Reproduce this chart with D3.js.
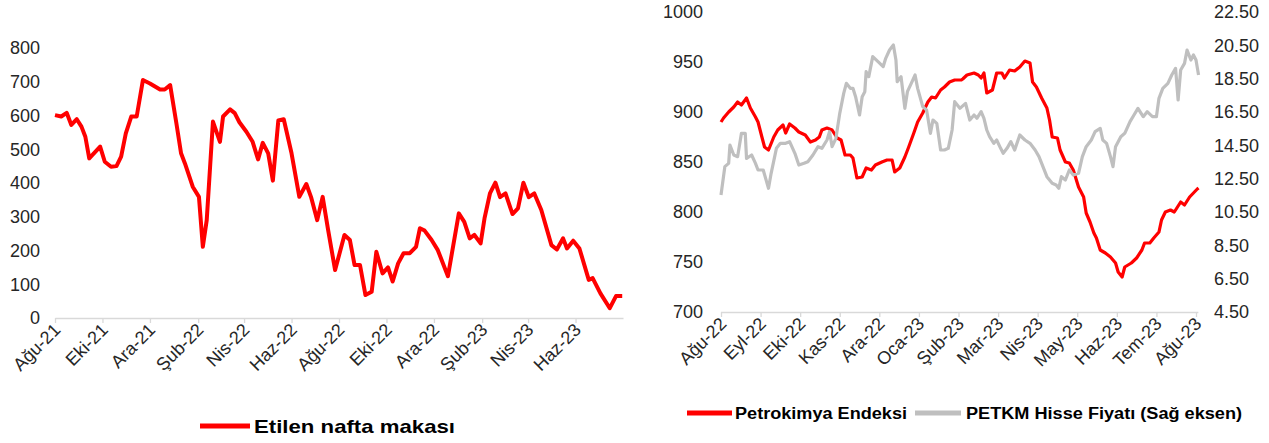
<!DOCTYPE html>
<html><head><meta charset="utf-8">
<script src="https://cdn.jsdelivr.net/npm/d3@7"></script>
<style>
html,body{margin:0;padding:0;background:#fff;}
svg{display:block;font-family:"Liberation Sans",Arial,sans-serif;}
</style></head>
<body><svg id="c" width="1269" height="443"></svg>
<script>
// ---------- Left chart: Etilen nafta makası ----------
const leftDates = ["2021-08-01","2021-08-09","2021-08-16","2021-08-22","2021-08-29","2021-09-04","2021-09-09","2021-09-14","2021-09-28","2021-10-04","2021-10-12","2021-10-19","2021-10-25","2021-10-31","2021-11-07","2021-11-14","2021-11-22","2021-12-01","2021-12-14","2021-12-20","2021-12-27","2022-01-04","2022-01-10","2022-01-15","2022-01-25","2022-02-02","2022-02-07","2022-02-12","2022-02-20","2022-03-01","2022-03-05","2022-03-14","2022-03-20","2022-03-26","2022-04-04","2022-04-12","2022-04-19","2022-04-25","2022-05-02","2022-05-08","2022-05-15","2022-05-22","2022-06-01","2022-06-11","2022-06-20","2022-06-26","2022-07-04","2022-07-11","2022-07-18","2022-07-27","2022-08-08","2022-08-15","2022-08-21","2022-08-28","2022-09-04","2022-09-12","2022-09-18","2022-09-26","2022-10-03","2022-10-09","2022-10-16","2022-10-23","2022-10-31","2022-11-08","2022-11-13","2022-11-19","2022-11-28","2022-12-06","2022-12-19","2023-01-02","2023-01-09","2023-01-16","2023-01-22","2023-01-30","2023-02-04","2023-02-11","2023-02-18","2023-02-24","2023-03-03","2023-03-12","2023-03-19","2023-03-26","2023-04-02","2023-04-09","2023-04-18","2023-05-01","2023-05-08","2023-05-16","2023-05-21","2023-05-29","2023-06-06","2023-06-18","2023-06-23","2023-07-03","2023-07-15","2023-07-23","2023-07-31"];
const leftValues = [601,597,608,572,589,567,537,473,508,463,448,450,478,547,597,597,705,695,677,677,690,577,488,458,389,359,211,290,582,522,597,618,607,580,552,522,470,519,488,407,585,589,488,359,397,359,290,359,261,142,246,231,157,157,68,78,196,132,150,108,162,192,192,211,266,259,231,201,124,310,285,236,246,221,295,369,401,358,369,308,325,401,358,369,320,216,203,236,206,229,206,113,118,73,29,65,65];
const leftTickDates = ["2021-08-01","2021-10-01","2021-12-01","2022-02-01","2022-04-01","2022-06-01","2022-08-01","2022-10-01","2022-12-01","2023-02-01","2023-04-01","2023-06-01"];
const leftTickLabels = ["Ağu-21","Eki-21","Ara-21","Şub-22","Nis-22","Haz-22","Ağu-22","Eki-22","Ara-22","Şub-23","Nis-23","Haz-23"];
const leftYTicks = [0,100,200,300,400,500,600,700,800];
const leftSeriesName = "Etilen nafta makası";

// ---------- Right chart: Petrokimya Endeksi vs PETKM ----------
const petroDates = ["2022-08-01","2022-08-03","2022-08-07","2022-08-11","2022-08-14","2022-08-17","2022-08-21","2022-08-24","2022-08-28","2022-08-30","2022-09-02","2022-09-04","2022-09-07","2022-09-11","2022-09-14","2022-09-18","2022-09-20","2022-09-23","2022-09-27","2022-09-30","2022-10-05","2022-10-09","2022-10-13","2022-10-16","2022-10-18","2022-10-22","2022-10-26","2022-10-30","2022-11-02","2022-11-05","2022-11-09","2022-11-11","2022-11-14","2022-11-18","2022-11-21","2022-11-25","2022-11-28","2022-12-03","2022-12-07","2022-12-11","2022-12-13","2022-12-17","2022-12-21","2022-12-24","2022-12-28","2022-12-31","2023-01-04","2023-01-08","2023-01-11","2023-01-14","2023-01-18","2023-01-21","2023-01-25","2023-01-29","2023-02-03","2023-02-04","2023-02-07","2023-02-12","2023-02-15","2023-02-17","2023-02-19","2023-02-21","2023-02-25","2023-02-28","2023-03-04","2023-03-06","2023-03-10","2023-03-14","2023-03-18","2023-03-22","2023-03-26","2023-03-28","2023-03-31","2023-04-04","2023-04-08","2023-04-10","2023-04-12","2023-04-16","2023-04-18","2023-04-22","2023-04-25","2023-04-28","2023-05-02","2023-05-06","2023-05-08","2023-05-11","2023-05-14","2023-05-16","2023-05-19","2023-05-23","2023-05-27","2023-05-31","2023-06-02","2023-06-05","2023-06-07","2023-06-12","2023-06-16","2023-06-20","2023-06-22","2023-06-26","2023-06-29","2023-07-03","2023-07-05","2023-07-08","2023-07-12","2023-07-15","2023-07-20","2023-07-23","2023-07-27","2023-08-02","2023-08-03"];
const petroValues = [890,894,900,905,910,907,914,904,895,890,875,865,862,875,882,887,879,888,884,880,877,870,872,875,882,884,882,874,872,857,857,854,834,835,844,842,847,850,852,852,840,844,855,865,879,890,899,910,915,914,922,925,930,932,932,933,937,939,937,934,939,919,922,939,939,934,942,941,945,951,949,930,925,914,904,892,875,874,862,850,849,842,825,815,799,790,779,774,762,759,755,749,740,735,745,749,754,762,769,769,774,780,792,800,802,800,810,807,815,823,824];
const petkmDates = ["2022-08-01","2022-08-04","2022-08-07","2022-08-08","2022-08-11","2022-08-14","2022-08-17","2022-08-20","2022-08-21","2022-08-25","2022-08-28","2022-08-30","2022-09-03","2022-09-07","2022-09-09","2022-09-13","2022-09-16","2022-09-20","2022-09-23","2022-09-27","2022-09-30","2022-10-04","2022-10-07","2022-10-11","2022-10-15","2022-10-18","2022-10-22","2022-10-24","2022-10-26","2022-10-29","2022-11-01","2022-11-04","2022-11-06","2022-11-09","2022-11-11","2022-11-13","2022-11-16","2022-11-18","2022-11-20","2022-11-21","2022-11-23","2022-11-26","2022-11-30","2022-12-04","2022-12-06","2022-12-09","2022-12-12","2022-12-14","2022-12-15","2022-12-18","2022-12-21","2022-12-23","2022-12-26","2022-12-29","2022-12-31","2023-01-04","2023-01-07","2023-01-10","2023-01-12","2023-01-15","2023-01-18","2023-01-21","2023-01-24","2023-01-27","2023-01-29","2023-02-02","2023-02-06","2023-02-09","2023-02-12","2023-02-14","2023-02-17","2023-02-19","2023-02-21","2023-02-23","2023-02-26","2023-02-28","2023-03-03","2023-03-05","2023-03-08","2023-03-11","2023-03-14","2023-03-18","2023-03-22","2023-03-26","2023-03-30","2023-04-02","2023-04-05","2023-04-08","2023-04-12","2023-04-15","2023-04-17","2023-04-19","2023-04-22","2023-04-25","2023-04-28","2023-05-02","2023-05-05","2023-05-08","2023-05-12","2023-05-15","2023-05-19","2023-05-21","2023-05-24","2023-05-27","2023-05-29","2023-05-31","2023-06-04","2023-06-07","2023-06-11","2023-06-14","2023-06-17","2023-06-21","2023-06-24","2023-06-28","2023-07-01","2023-07-03","2023-07-06","2023-07-10","2023-07-13","2023-07-16","2023-07-18","2023-07-20","2023-07-23","2023-07-25","2023-07-28","2023-07-30","2023-08-01","2023-08-03"];
const petkmValues = [11.52,13.22,13.42,14.52,13.92,13.82,15.22,15.22,13.72,13.92,13.42,13.02,13.02,11.92,12.82,14.32,14.62,14.62,14.72,14.02,13.32,13.42,13.52,13.92,14.42,14.32,14.82,15.32,14.42,14.92,16.42,17.62,18.22,17.92,17.92,17.42,16.32,17.42,17.72,18.92,18.62,19.82,19.52,19.22,19.72,20.22,20.52,19.62,18.32,18.62,16.72,17.72,18.22,18.72,17.92,16.82,16.62,15.22,16.02,15.82,14.22,14.22,14.32,15.42,17.12,16.72,17.02,16.02,16.32,16.12,16.52,16.12,15.42,15.02,14.62,14.82,14.32,14.02,14.32,14.72,14.22,15.12,14.82,14.62,14.22,13.82,13.22,12.62,12.22,12.12,11.92,12.62,12.42,13.02,12.72,12.82,13.82,14.42,14.82,15.32,15.52,14.82,14.62,13.82,13.22,14.42,15.02,15.22,15.92,16.32,16.72,16.22,16.52,16.22,16.22,17.32,17.92,18.22,18.72,19.12,17.22,19.02,19.42,20.22,19.62,19.92,19.62,18.72];
const rightTickLabels = ["Ağu-22","Eyl-22","Eki-22","Kas-22","Ara-22","Oca-23","Şub-23","Mar-23","Nis-23","May-23","Haz-23","Tem-23","Ağu-23"];
const rightLeftTicks = [700,750,800,850,900,950,1000];
const rightRightTicks = [4.5,6.5,8.5,10.5,12.5,14.5,16.5,18.5,20.5,22.5];
const petroName = "Petrokimya Endeksi";
const petkmName = "PETKM Hisse Fiyatı (Sağ eksen)";

const RED = "#ff0000", GRAY = "#bfbfbf", AXIS = "#d9d9d9", TXT = "#262626";
const parse = d3.utcParse("%Y-%m-%d");
const svg = d3.select("#c");
svg.append("rect").attr("width",1269).attr("height",443).attr("fill","#fff");

function styleAxis(g){
  g.select(".domain").attr("stroke",AXIS).attr("stroke-width",1.3);
  g.selectAll(".tick line").attr("stroke",AXIS).attr("stroke-width",1.3);
}
function styleXLabels(g){
  g.selectAll(".tick text").attr("font-size",18).attr("fill",TXT)
    .attr("text-anchor","end").attr("dy",0).attr("y",0)
    .attr("transform","translate(6,13) rotate(-45)");
}

// ===== LEFT =====
const xL = d3.scaleUtc().domain([parse("2021-08-01"), parse("2023-08-01")]).range([55, 623]);
const yL = d3.scaleLinear().domain([0, 800]).range([318, 48]);

const gxL = svg.append("g").attr("transform","translate(0,318)")
  .call(d3.axisBottom(xL).tickValues(leftTickDates.map(parse)).tickSize(5).tickSizeOuter(0)
        .tickFormat((d,i)=>leftTickLabels[i]));
styleAxis(gxL);
styleXLabels(gxL);

const gyL = svg.append("g").attr("transform","translate(40,0)")
  .call(d3.axisLeft(yL).tickValues(leftYTicks).tickSize(0).tickPadding(0).tickFormat(d3.format("d")));
gyL.select(".domain").remove();
gyL.selectAll(".tick text").attr("font-size",18).attr("fill",TXT);

svg.append("path")
  .attr("d", d3.line().x((d,i)=>xL(parse(leftDates[i]))).y(d=>yL(d))(leftValues))
  .attr("fill","none").attr("stroke",RED).attr("stroke-width",4).attr("stroke-linejoin","round");

// legend left
svg.append("line").attr("x1",200).attr("x2",250).attr("y1",426).attr("y2",426)
  .attr("stroke",RED).attr("stroke-width",5);
svg.append("text").attr("x",254).attr("y",426).attr("dominant-baseline","central")
  .attr("font-size",19).attr("font-weight","bold").attr("fill","#000")
  .attr("textLength",201).attr("lengthAdjust","spacingAndGlyphs").text(leftSeriesName);

// ===== RIGHT =====
function monthIndex(s){
  const d = parse(s);
  const y = d.getUTCFullYear(), m = d.getUTCMonth(), day = d.getUTCDate();
  const dim = new Date(Date.UTC(y, m+1, 0)).getUTCDate();
  return (y-2022)*12 + (m-7) + (day-1)/dim;
}
const xR = d3.scaleLinear().domain([0, 12]).range([721, 1196]);
const yP = d3.scaleLinear().domain([700, 1000]).range([312, 12]);
const yS = d3.scaleLinear().domain([4.5, 22.5]).range([312, 12]);

const gxR = svg.append("g").attr("transform","translate(0,312)")
  .call(d3.axisBottom(xR).tickValues(d3.range(rightTickLabels.length)).tickSize(5).tickSizeOuter(0)
        .tickFormat((d,i)=>rightTickLabels[i]));
styleAxis(gxR);
gxR.select(".domain").attr("d", `M${xR(0)},0.5H${xR(12.06)}`);
styleXLabels(gxR);

const gyP = svg.append("g").attr("transform","translate(703,0)")
  .call(d3.axisLeft(yP).tickValues(rightLeftTicks).tickSize(0).tickPadding(0).tickFormat(d3.format("d")));
gyP.select(".domain").remove();
gyP.selectAll(".tick text").attr("font-size",18).attr("fill",TXT);

const gyS = svg.append("g").attr("transform","translate(1214,0)")
  .call(d3.axisRight(yS).tickValues(rightRightTicks).tickSize(0).tickPadding(0).tickFormat(d3.format(".2f")));
gyS.select(".domain").remove();
gyS.selectAll(".tick text").attr("font-size",18).attr("fill",TXT);

svg.append("path")
  .attr("d", d3.line().x((d,i)=>xR(monthIndex(petroDates[i]))).y(d=>yP(d))(petroValues))
  .attr("fill","none").attr("stroke",RED).attr("stroke-width",3.2).attr("stroke-linejoin","round");
svg.append("path")
  .attr("d", d3.line().x((d,i)=>xR(monthIndex(petkmDates[i]))).y(d=>yS(d))(petkmValues))
  .attr("fill","none").attr("stroke",GRAY).attr("stroke-width",3.2).attr("stroke-linejoin","round");

// legend right
svg.append("line").attr("x1",687).attr("x2",732).attr("y1",413).attr("y2",413)
  .attr("stroke",RED).attr("stroke-width",5);
svg.append("text").attr("x",735).attr("y",413).attr("dominant-baseline","central")
  .attr("font-size",16).attr("font-weight","bold").attr("fill","#000")
  .attr("textLength",172).attr("lengthAdjust","spacingAndGlyphs").text(petroName);
svg.append("line").attr("x1",915).attr("x2",961).attr("y1",413).attr("y2",413)
  .attr("stroke",GRAY).attr("stroke-width",5);
svg.append("text").attr("x",966).attr("y",413).attr("dominant-baseline","central")
  .attr("font-size",16).attr("font-weight","bold").attr("fill","#000")
  .attr("textLength",276).attr("lengthAdjust","spacingAndGlyphs").text(petkmName);
</script></body></html>
